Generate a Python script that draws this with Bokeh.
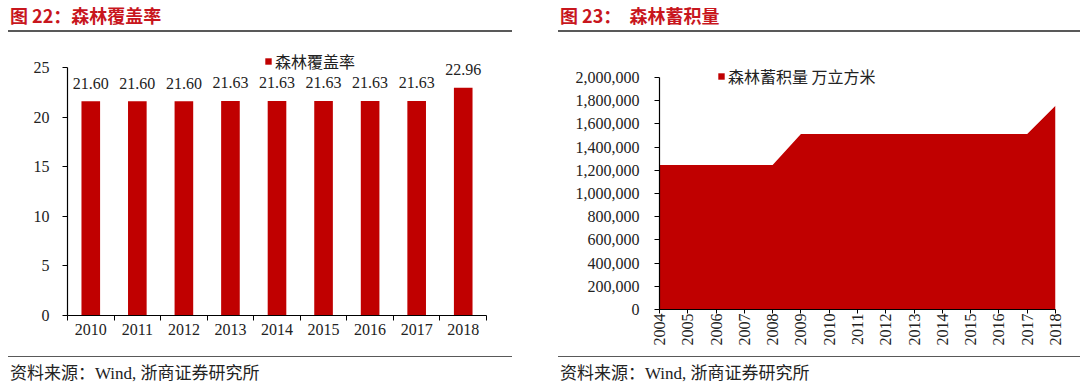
from bokeh.plotting import figure
from bokeh.layouts import row, column
from bokeh.models import (ColumnDataSource, Range1d, FixedTicker, SingleIntervalTicker,
                          NumeralTickFormatter, LabelSet, Legend, LegendItem, Div)
from bokeh.core.properties import value
from bokeh.embed import file_html
from bokeh.resources import INLINE
import math

# ---------------- data ----------------
cover_years = [2010, 2011, 2012, 2013, 2014, 2015, 2016, 2017, 2018]
cover_rate = [21.60, 21.60, 21.60, 21.63, 21.63, 21.63, 21.63, 21.63, 22.96]
cover_axis = (0, 25)

stock_years = [2004, 2005, 2006, 2007, 2008, 2009, 2010, 2011, 2012, 2013, 2014, 2015, 2016, 2017, 2018]
stock_vals = [1245584, 1245584, 1245584, 1245584, 1245584, 1513729, 1513729, 1513729, 1513729,
              1513729, 1513729, 1513729, 1513729, 1513729, 1756023]
stock_axis = (0, 2000000)

title_left = "图 22：森林覆盖率"
title_right = "图 23：  森林蓄积量"
legend_left = "森林覆盖率"
legend_right = "森林蓄积量 万立方米"
source_text = "资料来源：Wind, 浙商证券研究所"

RED = "#C00000"
TITLE_RED = "#C8161D"
NUM_FONT = "Liberation Serif"
CJK_FONT = "Noto Sans CJK SC"

TOP_H = 32
FIG_H = 324


def title_div(text, width, margin):
    return Div(text=text, width=width, height=TOP_H, margin=margin,
               styles={"font-family": "'Noto Sans CJK SC', sans-serif", "font-weight": "bold",
                       "font-size": "18px", "line-height": "30px", "color": TITLE_RED,
                       "white-space": "pre", "padding-left": "2px",
                       "border-bottom": "2px solid #595959"})


def source_div(width, margin):
    return Div(text=source_text, width=width, height=30, margin=margin,
               styles={"font-family": "'Liberation Serif', 'Noto Sans CJK SC', serif",
                       "font-size": "17px", "line-height": "28px", "color": "#222222",
                       "white-space": "pre", "padding-left": "2px", "padding-top": "3px",
                       "border-top": "1.5px solid #595959"})


def style_axes(p):
    for ax in (p.xaxis[0], p.yaxis[0]):
        ax.axis_line_color = "black"
        ax.axis_line_width = 1.2
        ax.major_tick_line_color = "black"
        ax.minor_tick_line_color = "black"
        ax.major_label_text_font = NUM_FONT
        ax.major_label_text_font_size = "16px"
        ax.major_label_text_color = "#222222"
    p.xgrid.grid_line_color = None
    p.ygrid.grid_line_color = None
    p.outline_line_color = None
    p.background_fill_color = "white"
    p.border_fill_color = "white"


# ---------------- left: coverage bars ----------------
# frame: x 67..486 ; axis 0 at y=315, 25 at y=67 ; frame top extended to y=40
l_top, l_ax_top, l_ax_bot = 40, 67, 315
l_end = cover_axis[1] + (l_ax_top - l_top) * (cover_axis[1] - cover_axis[0]) / (l_ax_bot - l_ax_top)
src_l = ColumnDataSource(dict(x=cover_years, y=cover_rate, lab=[f"{v:.2f}" for v in cover_rate]))
pl = figure(width=548, height=FIG_H, output_backend="svg", toolbar_location=None,
            x_range=Range1d(cover_years[0] - 0.5, cover_years[-1] + 0.5),
            y_range=Range1d(cover_axis[0], l_end),
            min_border_left=67, min_border_right=548 - 486,
            min_border_top=l_top - TOP_H, min_border_bottom=TOP_H + FIG_H - l_ax_bot)
bars = pl.vbar(x="x", top="y", width=0.4, source=src_l, fill_color=RED, line_color=None)
style_axes(pl)
pl.yaxis.bounds = cover_axis
pl.xaxis.ticker = FixedTicker(ticks=cover_years,
                              minor_ticks=[y - 0.5 for y in cover_years] + [cover_years[-1] + 0.5])
pl.xaxis.major_tick_out = 0
pl.xaxis.major_tick_in = 0
pl.xaxis.minor_tick_out = 5
pl.xaxis.minor_tick_in = 0
pl.xaxis.major_label_standoff = 3
pl.yaxis.ticker = SingleIntervalTicker(interval=5, num_minor_ticks=0)
pl.yaxis.major_tick_out = 5
pl.yaxis.major_tick_in = 0
pl.yaxis.minor_tick_out = 0
pl.yaxis.major_label_standoff = 13
pl.add_layout(LabelSet(x="x", y="y", text="lab", source=src_l, text_font=value(NUM_FONT),
                       text_font_size="16px", text_color="#222222", text_align="center",
                       text_baseline="middle", y_offset=18))
leg_l = Legend(items=[LegendItem(label=legend_left, renderers=[bars])], location=(197, 242),
               orientation="horizontal", glyph_width=8, glyph_height=8, label_standoff=3,
               padding=0, margin=0, border_line_color=None, background_fill_alpha=0,
               label_text_font=CJK_FONT, label_text_font_size="16px",
               label_text_color="#222222")
pl.add_layout(leg_l, "center")

# ---------------- right: stock area ----------------
# frame: x 659..1055 ; axis 0 at y=309, 2,000,000 at y=77 ; frame top extended to y=50
r_top, r_ax_top, r_ax_bot = 50, 77, 309
r_end = stock_axis[1] + (r_ax_top - r_top) * (stock_axis[1] - stock_axis[0]) / (r_ax_bot - r_ax_top)
src_r = ColumnDataSource(dict(x=stock_years, y=stock_vals, y0=[0] * len(stock_vals)))
pr = figure(width=532, height=FIG_H, output_backend="svg", toolbar_location=None,
            x_range=Range1d(stock_years[0], stock_years[-1]),
            y_range=Range1d(stock_axis[0], r_end),
            min_border_left=659 - 548, min_border_right=1080 - 1055,
            min_border_top=r_top - TOP_H, min_border_bottom=TOP_H + FIG_H - r_ax_bot)
area = pr.varea(x="x", y1="y0", y2="y", source=src_r, fill_color=RED)
style_axes(pr)
pr.yaxis.bounds = stock_axis
pr.xaxis.ticker = FixedTicker(ticks=stock_years)
pr.xaxis.major_label_orientation = math.pi / 2
pr.xaxis.major_tick_out = 4
pr.xaxis.major_tick_in = 0
pr.xaxis.minor_tick_out = 0
pr.xaxis.major_label_standoff = 0
pr.yaxis.ticker = SingleIntervalTicker(interval=200000, num_minor_ticks=0)
pr.yaxis.formatter = NumeralTickFormatter(format="0,0")
pr.yaxis.major_tick_out = 5
pr.yaxis.major_tick_in = 0
pr.yaxis.minor_tick_out = 0
pr.yaxis.major_label_standoff = 15
leg_r = Legend(items=[LegendItem(label=legend_right, renderers=[area])], location=(58, 221),
               orientation="horizontal", glyph_width=8, glyph_height=8, label_standoff=3,
               padding=0, margin=0, border_line_color=None, background_fill_alpha=0,
               label_text_font=CJK_FONT, label_text_font_size="16px",
               label_text_color="#222222")
pr.add_layout(leg_r, "center")

left_panel = column(title_div(title_left, 504, (0, 36, 0, 8)), pl,
                    source_div(504, (0, 36, 0, 8)), spacing=0)
right_panel = column(title_div(title_right, 522, (0, 0, 0, 10)), pr,
                     source_div(522, (0, 0, 0, 10)), spacing=0)
layout = row(left_panel, right_panel, spacing=0)
open("out.html", "w").write(file_html(layout, INLINE))
